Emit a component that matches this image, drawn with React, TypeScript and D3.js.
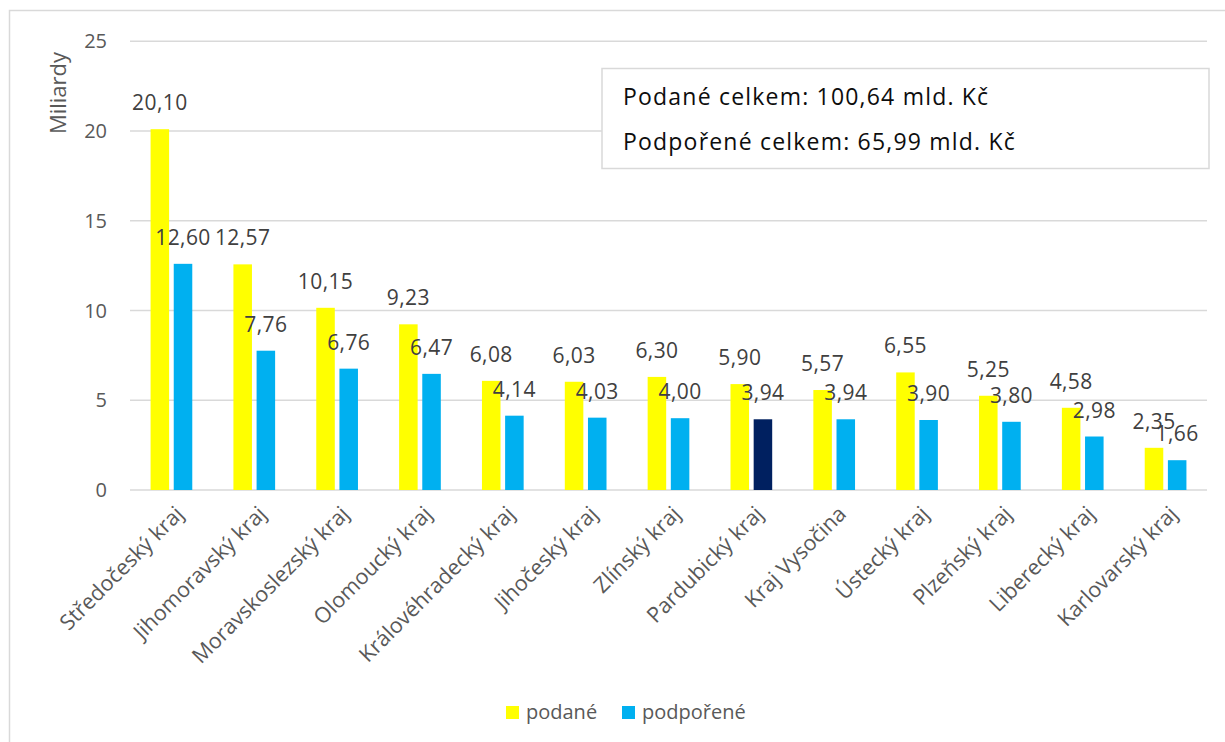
import React, { useEffect, useRef } from 'react';
import * as d3 from 'd3';

// regions, sorted as in the source chart
const kraje = [
  'Středočeský kraj',
  'Jihomoravský kraj',
  'Moravskoslezský kraj',
  'Olomoucký kraj',
  'Královéhradecký kraj',
  'Jihočeský kraj',
  'Zlínský kraj',
  'Pardubický kraj',
  'Kraj Vysočina',
  'Ústecký kraj',
  'Plzeňský kraj',
  'Liberecký kraj',
  'Karlovarský kraj',
];

const podane = [20.1, 12.57, 10.15, 9.23, 6.08, 6.03, 6.3, 5.9, 5.57, 6.55, 5.25, 4.58, 2.35];
const podporene = [12.6, 7.76, 6.76, 6.47, 4.14, 4.03, 4.0, 3.94, 3.94, 3.9, 3.8, 2.98, 1.66];

const yTicks = [0, 5, 10, 15, 20, 25];
const seriesNames = ['podané', 'podpořené'];
const highlighted = 'Pardubický kraj';
const boxLines = ['Podané celkem: 100,64 mld. Kč', 'Podpořené celkem: 65,99 mld. Kč'];

const W = 1225;
const H = 742;

const fmt = (v: number) => v.toFixed(2).replace('.', ',');

const App: React.FC = () => {
  const ref = useRef<SVGSVGElement>(null);

  useEffect(() => {
    if (!ref.current) return;
    const svg = d3.select(ref.current);
    svg.selectAll('*').remove();

    const left = 130;
    const right = 1207;
    const top = 41.25;
    const bottom = 490;

    const x0 = d3.scaleBand<string>().domain(kraje).range([left, right]).padding(0);
    const groupW = 41.7;
    const x1 = d3.scaleBand<string>().domain(seriesNames).range([0, groupW]).paddingInner(0.2);
    const y = d3.scaleLinear().domain([0, 25]).range([bottom, top]);

    const yellow = '#FFFF00';
    const blue = '#00B0F0';
    const navy = '#002060';
    const grid = '#d9d9d9';
    const txt = '#595959';
    const font = 'Open Sans';

    svg.append('rect').attr('width', W).attr('height', H).attr('fill', '#fff');
    // chart frame, runs off the right and bottom edge
    svg
      .append('rect')
      .attr('x', 9.5)
      .attr('y', 10.5)
      .attr('width', W + 20)
      .attr('height', H + 20)
      .attr('fill', 'none')
      .attr('stroke', grid)
      .attr('stroke-width', 1.5);

    // gridlines
    svg
      .append('g')
      .selectAll('line')
      .data(yTicks)
      .enter()
      .append('line')
      .attr('x1', left)
      .attr('x2', right)
      .attr('y1', (d) => y(d))
      .attr('y2', (d) => y(d))
      .attr('stroke', grid)
      .attr('stroke-width', 1.5);

    // y tick labels
    svg
      .append('g')
      .selectAll('text')
      .data(yTicks)
      .enter()
      .append('text')
      .attr('x', 107)
      .attr('y', (d) => y(d))
      .attr('dy', '0.35em')
      .attr('text-anchor', 'end')
      .attr('font-family', font)
      .attr('font-size', 20)
      .attr('fill', txt)
      .text((d) => d);

    svg
      .append('text')
      .attr('transform', 'translate(66,93) rotate(-90)')
      .attr('text-anchor', 'middle')
      .attr('font-family', font)
      .attr('font-size', 22)
      .attr('fill', txt)
      .text('Miliardy');

    const rows = kraje.map((k, i) => ({
      kraj: k,
      vals: [
        { key: seriesNames[0], value: podane[i] },
        { key: seriesNames[1], value: podporene[i] },
      ],
    }));

    const groups = svg
      .append('g')
      .selectAll('g')
      .data(rows)
      .enter()
      .append('g')
      .attr('transform', (d) => `translate(${(x0(d.kraj) || 0) + (x0.bandwidth() - groupW) / 2},0)`);

    groups
      .selectAll('rect')
      .data((d) => d.vals.map((v) => ({ ...v, kraj: d.kraj })))
      .enter()
      .append('rect')
      .attr('x', (d) => x1(d.key) || 0)
      .attr('y', (d) => y(d.value))
      .attr('width', x1.bandwidth())
      .attr('height', (d) => bottom - y(d.value))
      .attr('fill', (d) =>
        d.key === seriesNames[0] ? yellow : d.kraj === highlighted ? navy : blue
      );

    // data labels
    groups
      .selectAll('text')
      .data((d) => d.vals)
      .enter()
      .append('text')
      .attr('x', (d) => (x1(d.key) || 0) + x1.bandwidth() / 2)
      .attr('y', (d) => y(d.value) - 19)
      .attr('text-anchor', 'middle')
      .attr('font-family', font)
      .attr('font-size', 21)
      .attr('letter-spacing', 0.4)
      .attr('fill', '#404040')
      .text((d) => fmt(d.value));

    // category labels
    svg
      .append('g')
      .selectAll('text')
      .data(kraje)
      .enter()
      .append('text')
      .attr('transform', (d) => `translate(${(x0(d) || 0) + x0.bandwidth() / 2 + 8},510) rotate(-45)`)
      .attr('text-anchor', 'end')
      .attr('dy', '0.35em')
      .attr('font-family', font)
      .attr('font-size', 21.5)
      .attr('fill', txt)
      .text((d) => d);

    // totals box
    svg
      .append('rect')
      .attr('x', 602)
      .attr('y', 68.5)
      .attr('width', 607)
      .attr('height', 100)
      .attr('fill', '#fff')
      .attr('stroke', grid)
      .attr('stroke-width', 1.5);
    svg
      .append('g')
      .selectAll('text')
      .data(boxLines)
      .enter()
      .append('text')
      .attr('x', 623)
      .attr('y', (d, i) => 105 + i * 45)
      .attr('font-family', font)
      .attr('font-size', 23)
      .attr('letter-spacing', 1.2)
      .attr('fill', '#0d0d0d')
      .text((d) => d);

    // legend
    const legend = svg
      .append('g')
      .selectAll('g')
      .data(seriesNames)
      .enter()
      .append('g')
      .attr('transform', (d, i) => `translate(${506 + i * 116},706)`);
    legend
      .append('rect')
      .attr('width', 13)
      .attr('height', 13)
      .attr('fill', (d, i) => (i === 0 ? yellow : blue));
    legend
      .append('text')
      .attr('x', 20)
      .attr('y', 12.5)
      .attr('font-family', font)
      .attr('font-size', 20)
      .attr('fill', txt)
      .text((d) => d);

    return () => {
      svg.selectAll('*').remove();
    };
  }, []);

  return (
    <svg
      ref={ref}
      width={W}
      height={H}
      style={{ position: 'absolute', left: 0, top: 0, display: 'block' }}
    ></svg>
  );
};

export default App;
